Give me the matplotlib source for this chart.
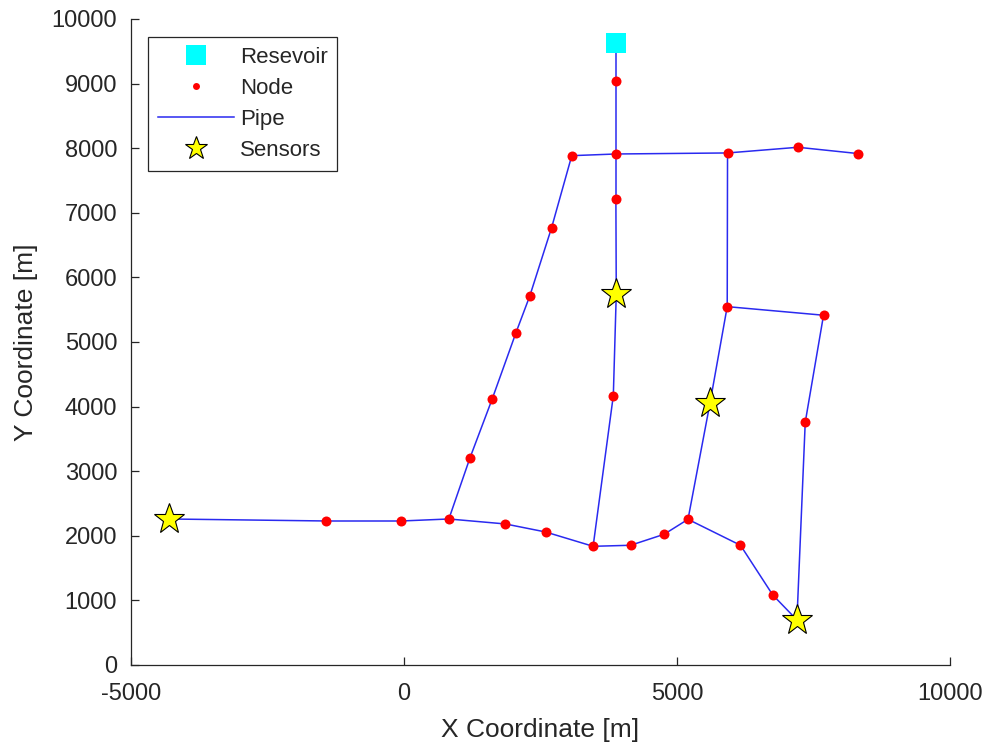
import matplotlib
matplotlib.use("Agg")
import matplotlib.pyplot as plt
from matplotlib.lines import Line2D

plt.rcParams['font.family'] = ['Liberation Sans', 'DejaVu Sans']
plt.rcParams['axes.unicode_minus'] = False

# Reservoir location
reservoir_x = [3880]
reservoir_y = [9630]

# Junction node coordinates
node_x = [3880, 3880, 3072, 5925, 7214, 8322, 3880, 3887, 3833, 2701,
          2305, 2050, 1612, 1205, 821, -4312, -1424, -49, 1856, 2592,
          3463, 4149, 4763, 5201, 6162, 6753, 7196, 5919, 5603, 7683, 7348]
node_y = [9047, 7910, 7884, 7926, 8014, 7916, 7214, 5743, 4169, 6765,
          5717, 5144, 4112, 3200, 2260, 2260, 2229, 2229, 2183, 2059,
          1837, 1853, 2023, 2255, 1853, 1084, 697, 5547, 4051, 5414, 3757]

# Pipes (start / end node index; -1 = reservoir)
pipe_start = [-1, 0, 2, 1, 3, 4, 1, 6, 7, 8, 2, 9, 10, 11, 12, 13, 15, 16, 17,
              14, 18, 19, 20, 21, 22, 23, 24, 25, 3, 27, 28, 27, 29, 30]
pipe_end = [0, 1, 1, 3, 4, 5, 6, 7, 8, 20, 9, 10, 11, 12, 13, 14, 16, 17, 14,
            18, 19, 20, 21, 22, 23, 24, 25, 26, 27, 28, 23, 29, 30, 26]

# Sensor node indices
sensor_nodes = [15, 7, 28, 26]

x_ticks = [-5000, 0, 5000, 10000]
y_ticks = list(range(0, 10001, 1000))

fig = plt.figure(figsize=(9.89, 7.47), dpi=100)
ax = fig.add_axes([0.1325, 0.1098, 0.8281, 0.8648])

def coord(i):
    if i < 0:
        return reservoir_x[0], reservoir_y[0]
    return node_x[i], node_y[i]

pipe_color = '#2a2af0'
for s, e in zip(pipe_start, pipe_end):
    x0, y0 = coord(s)
    x1, y1 = coord(e)
    ax.plot([x0, x1], [y0, y1], color=pipe_color, lw=1.1, zorder=2)

ax.plot(node_x, node_y, 'o', color='red', markersize=7.2, markeredgewidth=0, zorder=3)
ax.plot(reservoir_x, reservoir_y, 's', color='cyan', markersize=14.5, markeredgewidth=0, zorder=4)
ax.plot([node_x[i] for i in sensor_nodes], [node_y[i] for i in sensor_nodes], '*',
        markerfacecolor='yellow', markeredgecolor='black', markeredgewidth=0.8,
        markersize=23, zorder=5)

ax.set_xlim(-5000, 10000)
ax.set_ylim(0, 10000)
ax.set_xticks(x_ticks)
ax.set_yticks(y_ticks)
for sp in ['top', 'right']:
    ax.spines[sp].set_visible(False)
for sp in ['left', 'bottom']:
    ax.spines[sp].set_color('#262626')
    ax.spines[sp].set_linewidth(0.9)
ax.tick_params(direction='in', length=6, width=0.9, color='#262626',
               labelcolor='#262626', labelsize=17)
ax.tick_params(axis='x', pad=13)
ax.tick_params(axis='y', pad=10)

ax.set_xlabel('X Coordinate [m]', fontsize=19, color='#262626', labelpad=9.5)
ax.set_ylabel('Y Coordinate [m]', fontsize=19, color='#262626', labelpad=9.5)

handles = [
    Line2D([], [], marker='s', color='cyan', linestyle='none', markersize=14.5, markeredgewidth=0),
    Line2D([], [], marker='o', color='red', linestyle='none', markersize=5, markeredgewidth=0),
    Line2D([], [], color=pipe_color, lw=1.1),
    Line2D([], [], marker='*', markerfacecolor='yellow', markeredgecolor='black',
           markeredgewidth=0.8, linestyle='none', markersize=17),
]
labels = ['Resevoir', 'Node', 'Pipe', 'Sensors']
leg = ax.legend(handles, labels, loc='upper left', bbox_to_anchor=(0.0208, 0.972),
                borderaxespad=0, fontsize=16, handlelength=3.4, handletextpad=0.27,
                labelspacing=0.45, borderpad=0.45, fancybox=False, framealpha=1,
                edgecolor='#262626')
leg.get_frame().set_linewidth(0.9)
for t in leg.get_texts():
    t.set_color('#262626')

fig.savefig('out.png', dpi=100)
